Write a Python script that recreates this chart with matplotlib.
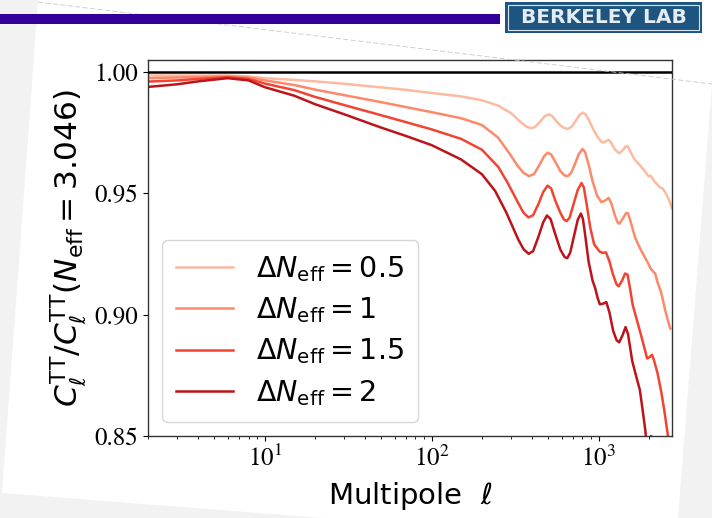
import numpy as np
import matplotlib
matplotlib.use('Agg')
import matplotlib.pyplot as plt
from matplotlib.patches import Polygon, Rectangle
from matplotlib.font_manager import FontProperties

plt.rcParams['mathtext.fontset'] = 'stix'

## ---- data ----------------------------------------------------------------
ell_ref = [2, 2750]
ratio_ref = [1.0, 1.0]

ell_05 = [2, 3, 4, 6, 8, 10, 15, 20, 30, 50, 70, 100, 150, 200, 250, 300, 340, 370, 393, 415,
          445, 475, 500, 525, 555, 590, 625, 655, 690, 730, 770, 805, 835, 870, 920, 980, 1040,
          1074, 1110, 1150, 1190, 1250, 1310, 1340, 1400, 1460, 1500, 1560, 1650, 1783, 1900,
          1980, 2060, 2123, 2220, 2330, 2420, 2535, 2650, 2750]
ratio_05 = [.9986, .9986, .9986, .9986, .9982, .9975, .9968, .9962, .9952, .9937, .9927, .9914,
            .9900, .9884, .9862, .9830, .9795, .9775, .9769, .9773, .9795, .9818, .9826, .9820,
            .9800, .9780, .9769, .9766, .9775, .9800, .9824, .9833, .9826, .9805, .9770, .9735,
            .9712, .9710, .9716, .9721, .9708, .9682, .9668, .9667, .9680, .9695, .9692, .9668,
            .9638, .9613, .9590, .9572, .9572, .9556, .9540, .9525, .9520, .9498, .9470, .9439]

ell_10 = [2, 3, 4, 6, 8, 10, 15, 20, 30, 50, 70, 100, 150, 200, 250, 290, 330, 355, 383, 410,
          440, 470, 494, 520, 550, 590, 625, 652, 685, 720, 760, 801, 830, 870, 920, 980, 1038,
          1090, 1148, 1190, 1250, 1300, 1330, 1400, 1460, 1500, 1560, 1650, 1750, 1852, 1950,
          2050, 2107, 2180, 2250, 2372, 2500, 2600, 2685]
ratio_10 = [.9975, .9978, .9980, .9983, .9978, .9966, .9947, .9928, .9905, .9876, .9856, .9835,
            .9810, .9782, .9730, .9668, .9610, .9585, .9571, .9580, .9615, .9652, .9668, .9660,
            .9630, .9592, .9574, .9571, .9585, .9620, .9662, .9683, .9670, .9620, .9550, .9490,
            .9464, .9470, .9481, .9460, .9410, .9380, .9375, .9398, .9419, .9418, .9380, .9320,
            .9280, .9248, .9220, .9190, .9180, .9170, .9135, .9090, .9020, .8975, .8943]

ell_15 = [2, 3, 4, 6, 8, 10, 15, 20, 30, 50, 70, 100, 150, 200, 250, 285, 330, 355, 380, 405,
          435, 465, 494, 520, 550, 590, 620, 643, 670, 710, 750, 789, 815, 850, 890, 940, 1014,
          1060, 1107, 1160, 1220, 1280, 1318, 1380, 1440, 1490, 1540, 1600, 1702, 1820, 1951,
          2020, 2088, 2150, 2250, 2371, 2480, 2576, 2700]
ratio_15 = [.9961, .9966, .9972, .9979, .9972, .9953, .9926, .9898, .9864, .9822, .9794, .9764,
            .9725, .9680, .9610, .9544, .9460, .9420, .9401, .9410, .9455, .9505, .9532, .9520,
            .9470, .9420, .9392, .9386, .9400, .9460, .9515, .9543, .9525, .9450, .9360, .9290,
            .9260, .9255, .9257, .9220, .9165, .9125, .9117, .9140, .9170, .9165, .9110, .9040,
            .8973, .8900, .8820, .8825, .8835, .8810, .8760, .8682, .8600, .8520, .8420]

ell_20 = [2, 3, 4, 6, 8, 10, 15, 20, 30, 50, 70, 100, 150, 200, 240, 280, 330, 355, 381, 405,
          435, 465, 490, 515, 545, 590, 625, 648, 675, 715, 750, 783, 805, 830, 870, 920, 953,
          985, 1016, 1060, 1112, 1160, 1220, 1280, 1327, 1390, 1449, 1500, 1589, 1680, 1766,
          1840, 1905, 1950, 2000, 2060, 2110, 2200, 2400]
ratio_20 = [.9939, .9950, .9962, .9975, .9966, .9938, .9903, .9868, .9826, .9771, .9737, .9699,
            .9640, .9579, .9510, .9421, .9310, .9270, .9251, .9262, .9320, .9380, .9409, .9395,
            .9340, .9268, .9238, .9233, .9255, .9330, .9392, .9417, .9395, .9330, .9220, .9140,
            .9110, .9070, .9043, .9045, .9052, .9010, .8935, .8895, .8886, .8915, .8949, .8920,
            .8809, .8745, .8689, .8600, .8521, .8440, .8420, .8500, .8440, .8300, .8100]

curves = [(ell_05, ratio_05, '#fcbba1', r'$\Delta N_{\rm eff} = 0.5$'),
          (ell_10, ratio_10, '#fc8a6a', r'$\Delta N_{\rm eff} = 1$'),
          (ell_15, ratio_15, '#f14432', r'$\Delta N_{\rm eff} = 1.5$'),
          (ell_20, ratio_20, '#bc141a', r'$\Delta N_{\rm eff} = 2$')]

W, H = 712, 518

def px(x, y):
	# pixel (y downwards) -> figure fraction
	return (x / W, 1 - y / H)

fig = plt.figure(figsize=(W / 100, H / 100), dpi=100, facecolor='#f2f2f2')

## ---- slide background ------------------------------------------------------
page = [px(38, 0), px(712, 0), px(712, 84), px(678, 518), px(323, 518), px(2, 493), px(38, 2)]
fig.add_artist(Polygon(page, closed=True, transform=fig.transFigure, facecolor='white',
                       edgecolor='none', zorder=0))
fig.add_artist(plt.Line2D([38 / W, 1], [1 - 2 / H, 1 - 84 / H], transform=fig.transFigure,
                          color='#c8c8c8', lw=0.6, ls=(0, (6, 3)), zorder=1))
fig.add_artist(Rectangle(px(0, 23.5), 500 / W, 10 / H, transform=fig.transFigure,
                         facecolor='#330099', edgecolor='none', zorder=2))
fig.add_artist(Rectangle(px(505, 33), 197 / W, 31 / H, transform=fig.transFigure,
                         facecolor='#1d5580', edgecolor='none', zorder=2))
fig.add_artist(Rectangle(px(508, 30), 191 / W, 25 / H, transform=fig.transFigure,
                         facecolor='none', edgecolor='#d8e2ea', lw=0.8, zorder=3))
fig.text(604 / W, 1 - 17.5 / H, 'BERKELEY LAB', color='#e4ecf2', fontsize=14.5,
         fontweight='bold', ha='center', va='center', family='DejaVu Sans', zorder=4)

## ---- the chart -------------------------------------------------------------
ax = fig.add_axes([148 / W, 1 - 436 / H, 524 / W, 376 / H])
ax.set_facecolor('white')

ax.plot(ell_ref, ratio_ref, color='black', lw=1.8, zorder=3)
for ell, ratio, col, lab in curves:
	ax.plot(ell, ratio, color=col, lw=1.8, label=lab)

ax.set_xscale('log')
ax.set_xlim(2, 2750)
ax.set_ylim(0.85, 1.005)
ax.set_yticks([0.85, 0.90, 0.95, 1.00])
ax.tick_params(labelsize=18, labelfontfamily='STIXGeneral')
for sp in ax.spines.values():
	sp.set_color('#333333')
	sp.set_linewidth(1.0)

ax.set_xlabel(r'Multipole  $\ell$', fontsize=21, family='DejaVu Sans',
              math_fontfamily='dejavusans', labelpad=6)
ax.set_ylabel(r'$C_\ell^{\rm TT}/C_\ell^{\rm TT}(N_{\rm eff} = 3.046)$', fontsize=22.5,
              family='DejaVu Sans', math_fontfamily='dejavusans', labelpad=4)

prop = FontProperties(family='DejaVu Sans', size=20.5, math_fontfamily='dejavusans')
ax.legend(loc='lower left', prop=prop, handlelength=2.0, handletextpad=0.8,
          labelspacing=0.4, borderpad=0.5)

fig.savefig('out.png', dpi=100, facecolor=fig.get_facecolor())
